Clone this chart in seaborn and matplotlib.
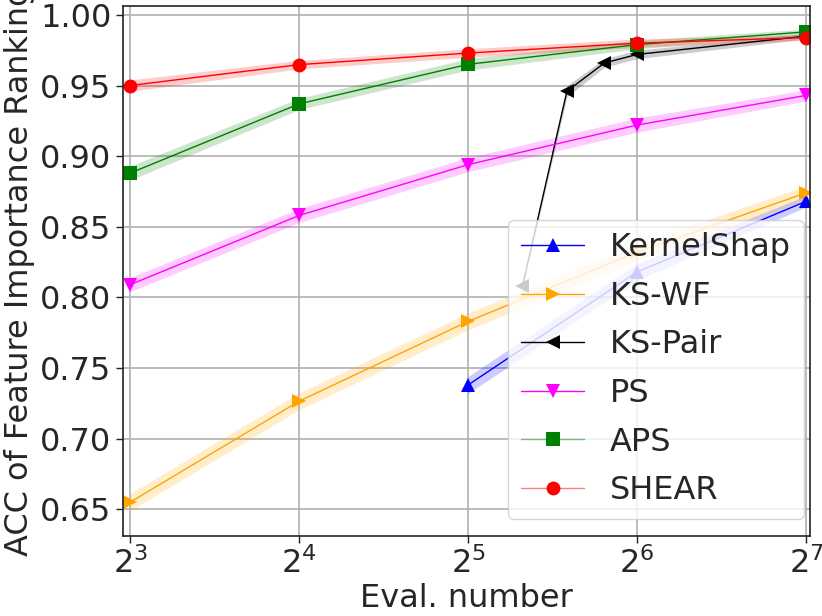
import matplotlib
matplotlib.use("Agg")
import matplotlib.pyplot as plt
import seaborn as sns
import numpy as np
from matplotlib.lines import Line2D
from matplotlib.ticker import NullLocator, FixedLocator

sns.set_style("ticks")
plt.rcParams['font.family'] = ['DejaVu Sans']

# ---- data ----
x_std = [8, 16, 32, 64, 128]
x_kernelshap = [32, 64, 128]
x_kspair = [40, 48, 56, 64, 128]

kernelshap = [0.738, 0.818, 0.868]
ks_wf = [0.655, 0.7265, 0.783, 0.832, 0.874]
ks_pair = [0.808, 0.946, 0.966, 0.972, 0.985]
ps = [0.809, 0.858, 0.894, 0.922, 0.943]
aps = [0.888, 0.937, 0.965, 0.979, 0.988]
shear = [0.950, 0.9648, 0.973, 0.980, 0.984]

# half-width of shaded bands
band_kernelshap = [0.006, 0.006, 0.004]
band_ks_wf = [0.006, 0.006, 0.006, 0.006, 0.005]
band_ks_pair = [0.002, 0.004, 0.003, 0.003, 0.002]
band_ps = [0.005, 0.005, 0.005, 0.005, 0.004]
band_aps = [0.005, 0.004, 0.004, 0.003, 0.002]
band_shear = [0.004, 0.003, 0.003, 0.003, 0.002]

series = [
    ("KernelShap", x_kernelshap, kernelshap, band_kernelshap, "blue", "^"),
    ("KS-WF", x_std, ks_wf, band_ks_wf, "orange", ">"),
    ("KS-Pair", x_kspair, ks_pair, band_ks_pair, "black", "<"),
    ("PS", x_std, ps, band_ps, "magenta", "v"),
    ("APS", x_std, aps, band_aps, "green", "s"),
    ("SHEAR", x_std, shear, band_shear, "red", "o"),
]

fig = plt.figure(figsize=(8.22, 6.16), dpi=100)
ax = fig.add_axes([0.150, 0.1304, 0.8354, 0.8603])

FS = 23
handles = []
for name, xs, ys, band, col, mk in series:
    ys_a = np.array(ys)
    b = np.array(band)
    ax.fill_between(xs, ys_a - b, ys_a + b, color=col, alpha=0.2, linewidth=0)
    sns.lineplot(x=xs, y=ys, ax=ax, color=col, marker=mk, markersize=10,
                 markeredgewidth=0, linewidth=1, errorbar=None, legend=False)
    lc = col
    if name in ("APS", "SHEAR"):
        lc = matplotlib.colors.to_rgba(col, 0.5)
    handles.append(Line2D([], [], color=lc, marker=mk, markersize=10,
                          markerfacecolor=col, markeredgecolor=col,
                          markeredgewidth=0, linewidth=1, label=name))

ax.set_xscale("log", base=2)
ax.set_xlim(7.78, 130.1)
ax.set_ylim(0.6313, 1.0065)
ax.xaxis.set_major_locator(FixedLocator(x_std))
ax.xaxis.set_minor_locator(NullLocator())
ax.set_yticks([0.65, 0.70, 0.75, 0.80, 0.85, 0.90, 0.95, 1.00])
ax.grid(True, color="#b0b0b0", linewidth=1.2)
ax.set_axisbelow(True)
for s in ax.spines.values():
    s.set_color("#222222")
    s.set_linewidth(1.2)
ax.tick_params(axis="both", labelsize=FS, length=5, width=1, color="#222222")
ax.set_xlabel("Eval. number", fontsize=FS, labelpad=2)
ax.set_ylabel("ACC of Feature Importance Ranking", fontsize=FS, labelpad=4)

leg = ax.legend(handles=handles, loc="lower right", fontsize=FS,
                framealpha=0.8, handlelength=2.0, borderpad=0.4,
                labelspacing=0.55, borderaxespad=0.0,
                bbox_to_anchor=(0.991, 0.0315))

fig.savefig("out.png", dpi=100)
